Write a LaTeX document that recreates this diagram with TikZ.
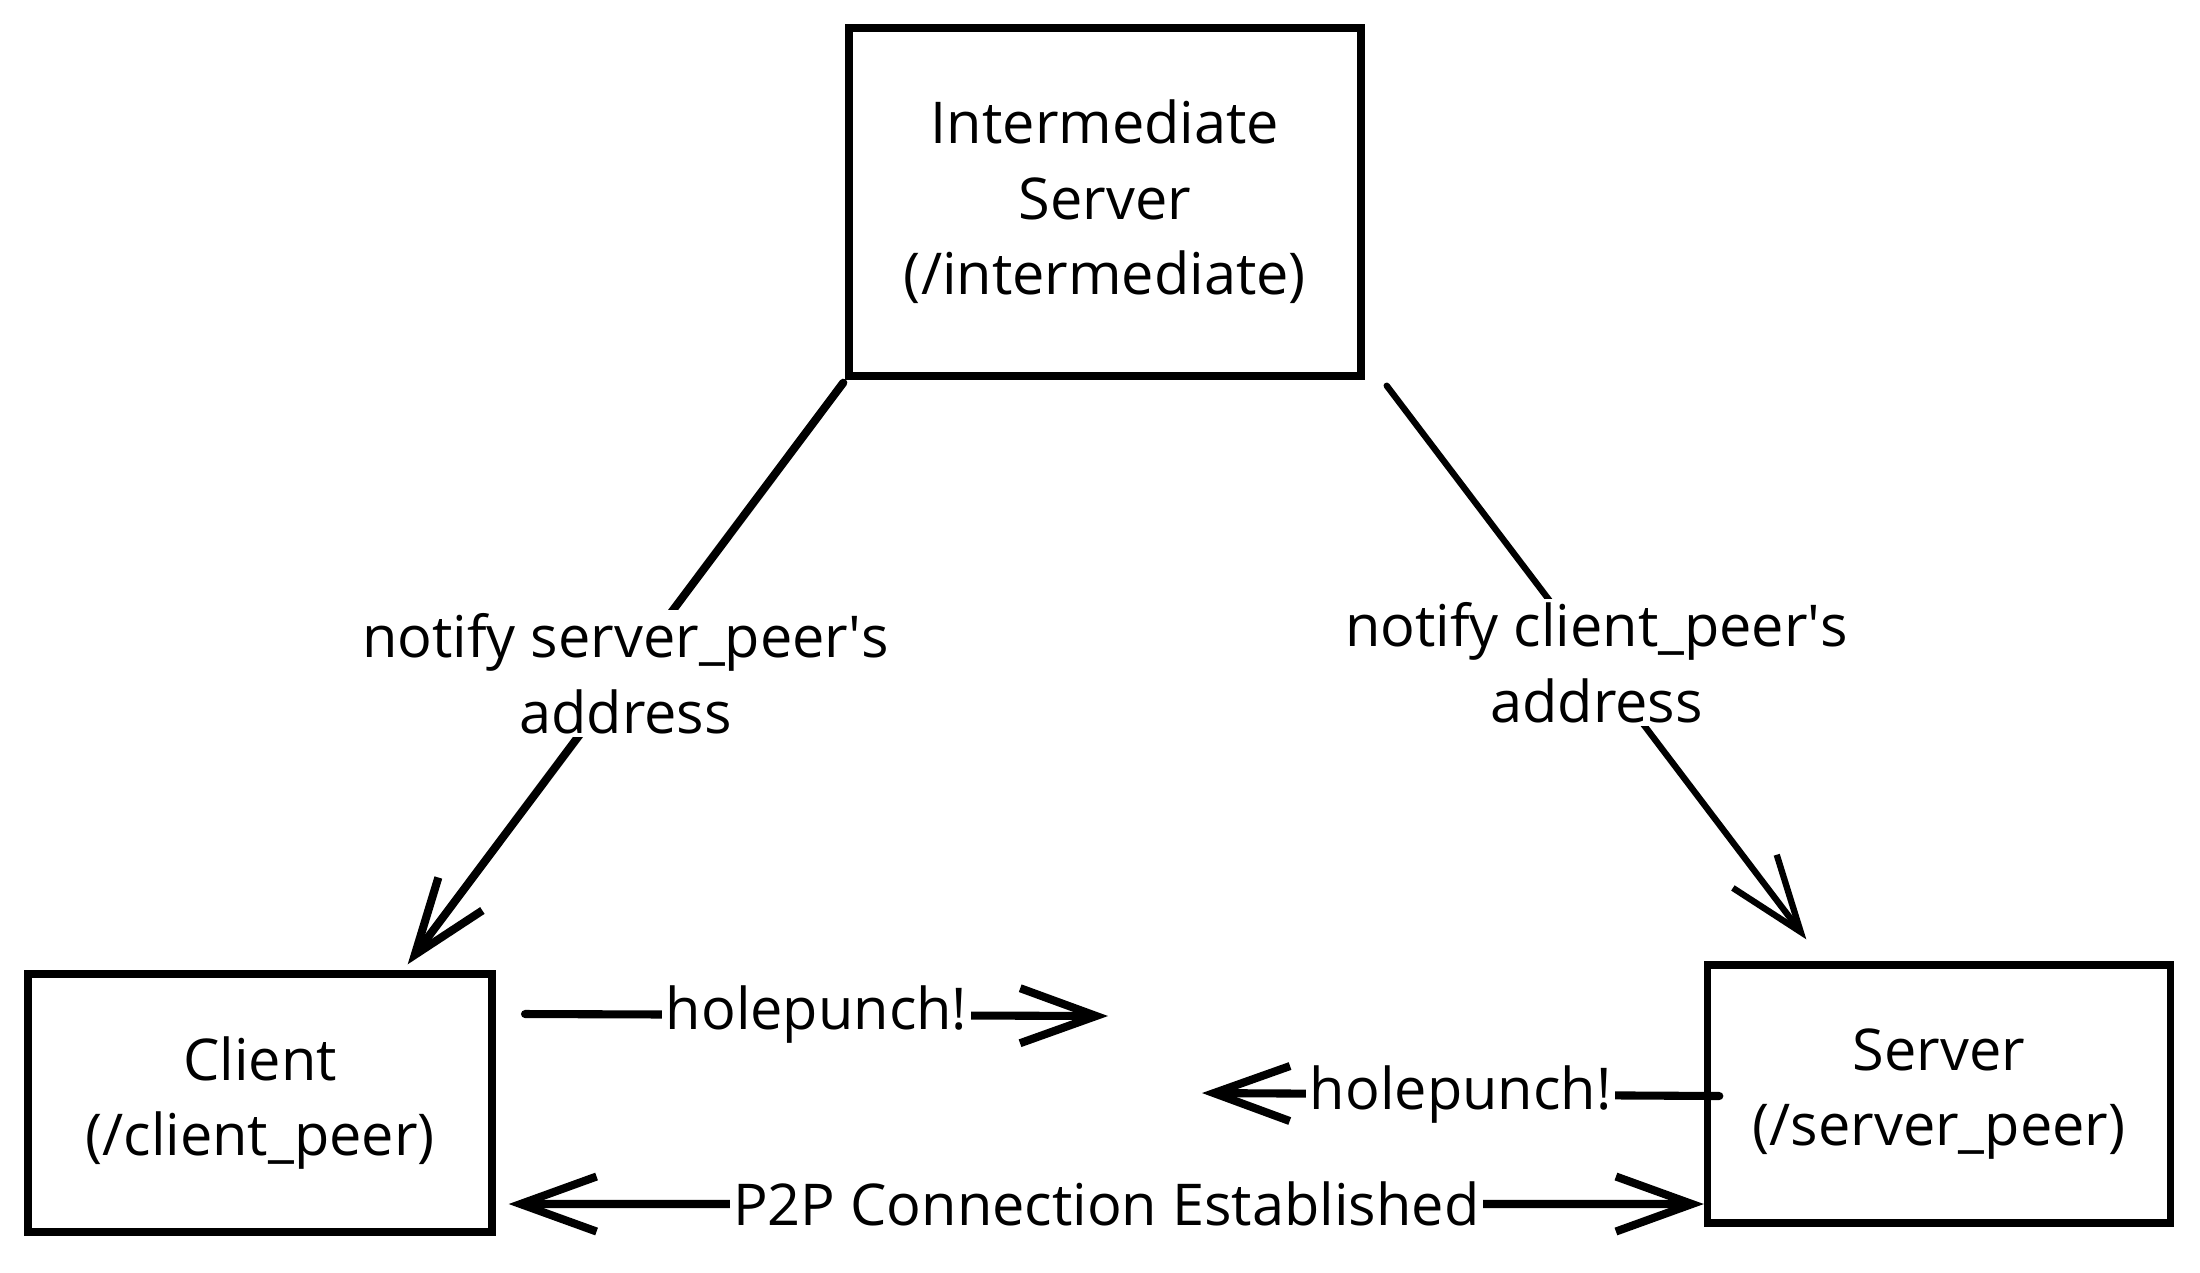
\documentclass[tikz,border=0pt]{standalone}
\usepackage{fontspec}
\setmainfont{Open Sans}
\usetikzlibrary{arrows.meta,calc}

\begin{document}
\begin{tikzpicture}[>={Straight Barb[length=7.6mm,width=5.5mm]},thick,
    box/.style={draw,line width=2.1pt,align=center,font=\fontsize{16.4}{21.5}\selectfont},
    lbl/.style={fill=white,inner sep=1pt,align=center,font=\fontsize{16.4}{21.5}\selectfont},
    arr/.style={->,line width=2.3pt,line cap=round}]

            \useasboundingbox (0,0) rectangle (22,-12.72);

            \node[box, minimum width=5.12cm, minimum height=3.48cm] (inter) at (11.05,-2.02) {Intermediate\\Server\\(/intermediate)};
            \node[box, minimum width=4.64cm, minimum height=2.58cm] (client) at (2.60,-11.03) {Client\\(/client\_peer)};
            \node[box, minimum width=4.63cm, minimum height=2.58cm] (server) at (19.39,-10.94) {Server\\(/server\_peer)};

            \coordinate (hp1s) at (5.25,-10.14);
            \coordinate (hp1e) at (11.08,-10.16);
            \coordinate (hp2e) at (12.02,-10.93);

            % notify
            \draw[arr] ([xshift=-0.02cm,yshift=-0.03cm]inter.south west) to node[lbl]{notify server\_peer\textquotesingle s\\address} ([xshift=-0.88cm,yshift=0.06cm]client.north east);
            \draw[arr, line width=1.8pt] ([xshift=0.22cm,yshift=-0.06cm]inter.south east) to node[lbl]{notify client\_peer\textquotesingle s\\address} ([xshift=1.025cm,yshift=0.22cm]server.north west);

            % holepunch
            \draw[arr] (hp1s) to node[lbl]{holepunch!} (hp1e);
            \draw[arr] ([xshift=0.155cm,yshift=-0.02cm]server.west) to node[lbl]{holepunch!} (hp2e);

            \draw[arr, <->] ([xshift=0.13cm,yshift=-1.01cm]client.east) to node[lbl]{P2P Connection Established} ([yshift=-1.1cm]server.west);

            ;
        \end{tikzpicture}
\end{document}
